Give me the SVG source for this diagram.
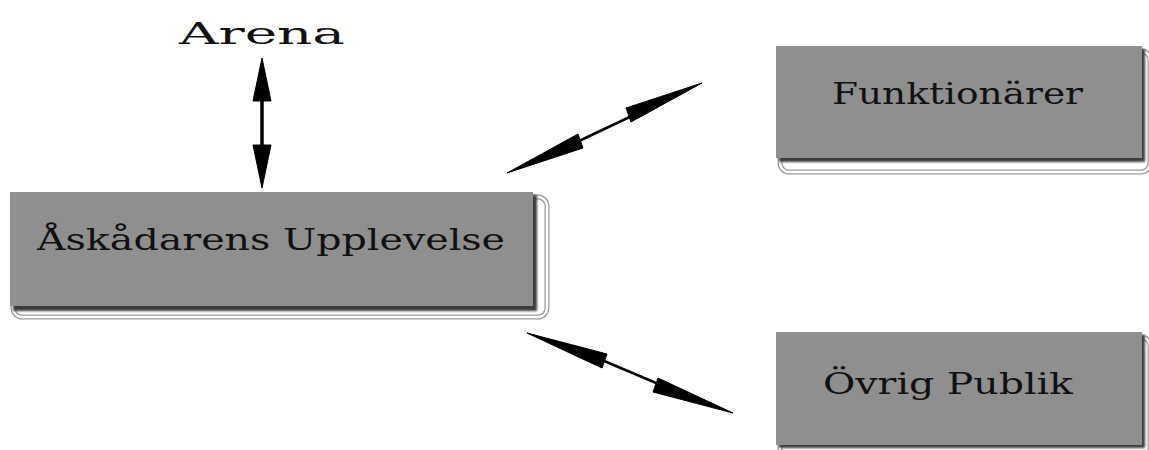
<svg xmlns="http://www.w3.org/2000/svg" width="1149" height="450" viewBox="0 0 1149 450">
<style>
.frame-o{fill:none;stroke:#9a9a9a;stroke-width:5}
.frame-i{fill:none;stroke:#ffffff;stroke-width:2.5}
.shadow{fill:#3c3c3c}
.box{fill:#8f8f8f}
.lbl{font-family:"DejaVu Serif","Liberation Serif",serif;fill:#111;font-size:30px}
.arr{fill:#000;stroke:#000;stroke-linejoin:round}
</style>
<defs>
<filter id="blur" x="-5%" y="-5%" width="110%" height="120%"><feGaussianBlur stdDeviation="1"/></filter>
</defs>
<rect width="1149" height="450" fill="#fff"/>
<g id="node-arena">
<text class="lbl" x="179" y="44" font-size="38" textLength="166" lengthAdjust="spacingAndGlyphs">Arena</text>
</g>
<g id="node-main">
<rect class="frame-o" x="13" y="197" width="534" height="120" rx="9"/>
<rect class="frame-i" x="13" y="197" width="534" height="120" rx="9"/>
<rect class="shadow" x="13" y="195" width="524" height="116" filter="url(#blur)"/>
<rect class="box" x="10" y="192" width="523" height="114"/>
<text class="lbl" x="37" y="250" textLength="468" lengthAdjust="spacingAndGlyphs">Åskådarens Upplevelse</text>
</g>
<g id="node-funk">
<rect class="frame-o" x="780" y="51" width="370" height="121" rx="9"/>
<rect class="frame-i" x="780" y="51" width="370" height="121" rx="9"/>
<rect class="shadow" x="779" y="49" width="366" height="113" filter="url(#blur)"/>
<rect class="box" x="776" y="46" width="366" height="112"/>
<text class="lbl" x="832" y="104" textLength="251" lengthAdjust="spacingAndGlyphs">Funktionärer</text>
</g>
<g id="node-ovrig">
<rect class="frame-o" x="780" y="337" width="370" height="121" rx="9"/>
<rect class="frame-i" x="780" y="337" width="370" height="121" rx="9"/>
<rect class="shadow" x="779" y="335" width="366" height="113" filter="url(#blur)"/>
<rect class="box" x="776" y="332" width="366" height="113"/>
<text class="lbl" x="823" y="394" textLength="250" lengthAdjust="spacingAndGlyphs">Övrig Publik</text>
</g>
<g id="connectors">
<line x1="262" y1="95" x2="262" y2="150" stroke="#000" stroke-width="3.5"/>
<polygon class="arr" points="262,58 271,101 253,101"/>
<polygon class="arr" points="262,188 271,145 253,145"/>
<line x1="560" y1="150" x2="655" y2="105" stroke="#000" stroke-width="2.5"/>
<polygon class="arr" points="507,173 578,134 583,148"/>
<polygon class="arr" points="702,83 631,122 626,108"/>
<line x1="590" y1="355" x2="675" y2="391" stroke="#000" stroke-width="2.5"/>
<polygon class="arr" points="527,333 607,354 602,368"/>
<polygon class="arr" points="733,413 653,392 658,378"/>
</g>
</svg>
